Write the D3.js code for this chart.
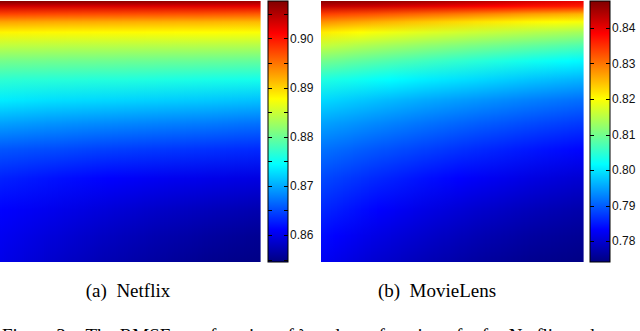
<!DOCTYPE html>
<html>
<head>
<meta charset="utf-8">
<script src="https://cdn.jsdelivr.net/npm/d3@7"></script>
<style>
  html, body { margin: 0; padding: 0; background: #fff; overflow: hidden; }
  .tick-label { font-family: "Liberation Sans", Arial, sans-serif; font-size: 12px; fill: #111; }
  .caption { font-family: "Liberation Serif", "Times New Roman", serif; font-size: 19px; fill: #000; }
</style>
</head>
<body>
<div id="chart"></div>
<script>
// jet colormap stops
const jetStops = [0, 0.125, 0.375, 0.625, 0.875, 1]
const jetColors = ["#000080", "#0000ff", "#00ffff", "#ffff00", "#ff0000", "#800000"]

// grid sampling positions (fraction of the panel)
const rowPos = [0, 0.02, 0.05, 0.08, 0.12, 0.17, 0.23, 0.30, 0.38, 0.47, 0.57, 0.68, 0.80, 0.90, 1]
const colPos = [0, 0.2, 0.4, 0.6, 0.8, 1]

// RMSE values (rows top -> bottom, cols left -> right)
const netflixGrid = [
  [0.9075, 0.9074, 0.9072, 0.9070, 0.9066, 0.9062],
  [0.9035, 0.9033, 0.9030, 0.9028, 0.9025, 0.9022],
  [0.8975, 0.8972, 0.8970, 0.8968, 0.8966, 0.8962],
  [0.8925, 0.8922, 0.8920, 0.8918, 0.8916, 0.8913],
  [0.8882, 0.8880, 0.8879, 0.8878, 0.8877, 0.8875],
  [0.8845, 0.8843, 0.8842, 0.8841, 0.8840, 0.8838],
  [0.8805, 0.8803, 0.8802, 0.8800, 0.8798, 0.8796],
  [0.8768, 0.8765, 0.8763, 0.8760, 0.8757, 0.8755],
  [0.8735, 0.8728, 0.8724, 0.8720, 0.8716, 0.8712],
  [0.8695, 0.8688, 0.8683, 0.8679, 0.8675, 0.8670],
  [0.8655, 0.8650, 0.8644, 0.8640, 0.8636, 0.8632],
  [0.8628, 0.8620, 0.8612, 0.8605, 0.8600, 0.8596],
  [0.8612, 0.8602, 0.8592, 0.8583, 0.8576, 0.8570],
  [0.8605, 0.8592, 0.8580, 0.8570, 0.8562, 0.8555],
  [0.8600, 0.8585, 0.8572, 0.8562, 0.8553, 0.8548]
]
const netflixDomain = [0.8545, 0.9076]
const netflixTicks = [0.86, 0.87, 0.88, 0.89, 0.90]
const netflixMinor = [0.855, 0.865, 0.875, 0.885, 0.895, 0.905]

// RMSE values
const movieGrid = [
  [0.8470, 0.8465, 0.8455, 0.8440, 0.8420, 0.8400],
  [0.8430, 0.8420, 0.8405, 0.8390, 0.8375, 0.8365],
  [0.8340, 0.8325, 0.8308, 0.8290, 0.8270, 0.8255],
  [0.8280, 0.8260, 0.8240, 0.8220, 0.8205, 0.8195],
  [0.8215, 0.8195, 0.8178, 0.8162, 0.8148, 0.8135],
  [0.8160, 0.8140, 0.8122, 0.8105, 0.8090, 0.8075],
  [0.8100, 0.8080, 0.8062, 0.8045, 0.8028, 0.8012],
  [0.8040, 0.8022, 0.8005, 0.7990, 0.7975, 0.7962],
  [0.7990, 0.7972, 0.7955, 0.7940, 0.7925, 0.7912],
  [0.7950, 0.7932, 0.7915, 0.7900, 0.7886, 0.7873],
  [0.7915, 0.7895, 0.7878, 0.7862, 0.7848, 0.7835],
  [0.7885, 0.7862, 0.7843, 0.7827, 0.7812, 0.7800],
  [0.7860, 0.7835, 0.7814, 0.7797, 0.7783, 0.7772],
  [0.7840, 0.7815, 0.7795, 0.7778, 0.7765, 0.7756],
  [0.7825, 0.7800, 0.7780, 0.7764, 0.7752, 0.7745]
]
const movieDomain = [0.7741, 0.8476]
const movieTicks = [0.78, 0.79, 0.80, 0.81, 0.82, 0.83, 0.84]
const movieMinor = []

const captions = ["(a)\u00a0\u00a0Netflix", "(b)\u00a0\u00a0MovieLens"]
const figCaption = "Figure 3:\u00a0\u00a0\u00a0The RMSE as a function of \u03bb and as a function of \u03b1 for Netflix and"

const W = 640, H = 331

const svg = d3.select("#chart").append("svg")
  .attr("width", W)
  .attr("height", H)
const defs = svg.append("defs")

let gradId = 0

function panel(px, py, pw, ph, cbx, cbw, grid, domain, ticks, minor, caption, capX) {
  const g = svg.append("g")
  const t = d3.scaleLinear().domain(domain).range([0, 1]).clamp(true)
  const jet = d3.scaleLinear().domain(jetStops).range(jetColors).interpolate(d3.interpolateRgb)
  const color = v => jet(t(v))

  const x = d3.scaleLinear().domain([0, 1]).range([px, px + pw])
  const strip = 2
  const nStrip = Math.ceil(pw / strip)
  const strips = d3.range(nStrip).map(i => (i + 0.5) / nStrip)

  // heat map drawn as thin vertical strips with a gradient through the grid rows
  strips.forEach((fx, i) => {
    const id = "hg" + (gradId++)
    const lg = defs.append("linearGradient").attr("id", id)
      .attr("x1", 0).attr("y1", 0).attr("x2", 0).attr("y2", 1)
    grid.forEach((row, r) => {
      const v = d3.scaleLinear().domain(colPos).range(row)(fx)
      lg.append("stop").attr("offset", rowPos[r]).attr("stop-color", color(v))
    })
    g.append("rect")
      .attr("x", x(i / nStrip))
      .attr("y", py)
      .attr("width", pw / nStrip + 0.6)
      .attr("height", ph)
      .attr("fill", `url(#${id})`)
  })

  // colorbar
  const y = d3.scaleLinear().domain(domain).range([py + ph, py])
  const cid = "cb" + (gradId++)
  const cg = defs.append("linearGradient").attr("id", cid)
    .attr("x1", 0).attr("y1", 1).attr("x2", 0).attr("y2", 0)
  jetStops.forEach((s, i) => cg.append("stop").attr("offset", s).attr("stop-color", jetColors[i]))
  g.append("rect")
    .attr("x", cbx).attr("y", py)
    .attr("width", cbw).attr("height", ph)
    .attr("fill", `url(#${cid})`)
    .attr("stroke", "#000").attr("stroke-width", 1)

  const allTicks = ticks.concat(minor)
  g.selectAll(null).data(allTicks).enter().append("path")
    .attr("d", d => `M${cbx},${Math.round(y(d)) + 0.5}h4M${cbx + cbw},${Math.round(y(d)) + 0.5}h-4`)
    .attr("stroke", "#000").attr("stroke-width", 1)

  g.selectAll(null).data(ticks).enter().append("text")
    .attr("class", "tick-label")
    .attr("x", cbx + cbw + 2)
    .attr("y", d => y(d))
    .attr("dy", "0.36em")
    .text(d => d3.format(".2f")(d))

  svg.append("text")
    .attr("class", "caption")
    .attr("x", capX).attr("y", 297)
    .attr("text-anchor", "middle")
    .text(caption)
}

panel(0, 1, 260, 261, 268, 20, netflixGrid, netflixDomain, netflixTicks, netflixMinor, captions[0], 128)
panel(321, 1, 262, 261, 590, 20, movieGrid, movieDomain, movieTicks, movieMinor, captions[1], 437)

// figure caption, cut off at the bottom edge as in the source page
svg.append("text")
  .attr("class", "caption")
  .attr("x", 2).attr("y", 342)
  .text(figCaption)
</script>
</body>
</html>
